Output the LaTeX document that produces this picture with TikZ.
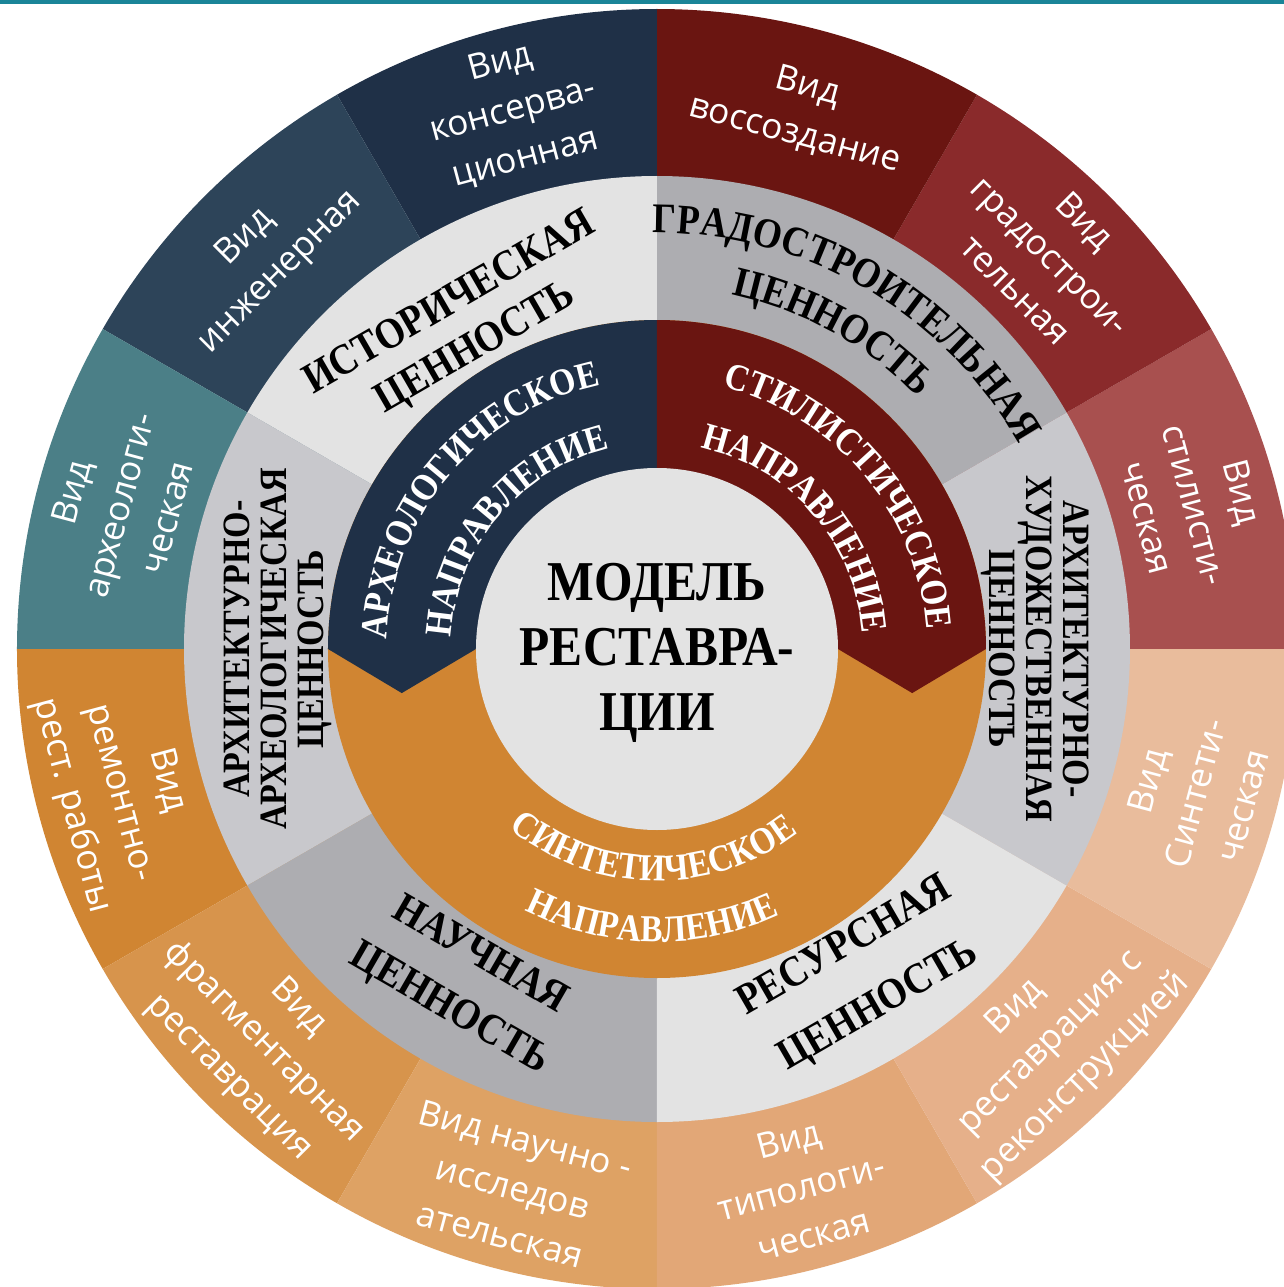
\documentclass[tikz,border=0pt]{standalone}
\usepackage{fontspec}
\setmainfont{Liberation Serif}
\newfontfamily\vidfont{Open Sans}
\newfontfamily\modfont[FakeStretch=0.88]{Liberation Serif}
\usetikzlibrary{decorations.text}

\definecolor{topline}{HTML}{1A8598}
\definecolor{navy}{HTML}{1F3047}
\definecolor{navyB}{HTML}{2D4459}
\definecolor{tealA}{HTML}{4B7F87}
\definecolor{wine}{HTML}{6A1511}
\definecolor{wineB}{HTML}{8A2A2B}
\definecolor{wineC}{HTML}{A8504F}
\definecolor{ochre}{HTML}{D08532}
\definecolor{ochreB}{HTML}{D7944C}
\definecolor{ochreC}{HTML}{DEA264}
\definecolor{peachA}{HTML}{E2A777}
\definecolor{peachB}{HTML}{E6B08A}
\definecolor{peachC}{HTML}{E9BC9C}
\definecolor{grayL}{HTML}{E3E3E3}
\definecolor{grayM}{HTML}{C8C8CC}
\definecolor{grayD}{HTML}{ADADB1}

\newcommand\dirfnt{\modfont\bfseries\fontsize{10.8}{12}\selectfont\color{white}}
\newcommand\valfnt{\modfont\bfseries\fontsize{12}{14}\selectfont}

\begin{document}
\begin{tikzpicture}[x=0.01cm, y=0.01cm,
    vid/.style={text=white, align=center, font=\vidfont\fontsize{10}{14}\selectfont},
    val/.style={align=center, font=\modfont\bfseries\fontsize{12.3}{#1}\selectfont},
    valsm/.style={align=center, font=\modfont\bfseries\fontsize{11}{10.5}\selectfont},
    arctext/.style={decorate, decoration={text along path, text align=center, text={#1}}}]
  \path[use as bounding box, fill=white] (-657,-638) rectangle (627,649);
  \fill[topline] (-657,645) rectangle (627,649);

  \foreach \a/\c in {0/wineC, 30/wineB, 60/wine, 90/navy, 120/navyB, 150/tealA,
                     180/ochre, 210/ochreB, 240/ochreC, 270/peachA, 300/peachB, 330/peachC}
    \fill[\c] (0,0) -- (\a:640) arc[start angle=\a, delta angle=30, radius=640] -- cycle;
  \foreach \a/\c in {30/grayD, 90/grayL, 150/grayM, 210/grayD, 270/grayL, 330/grayM}
    \fill[\c] (0,0) -- (\a:473) arc[start angle=\a, delta angle=60, radius=473] -- cycle;
  \fill[ochre] (0,0) circle (329);
  \fill[navy] (0,0) -- (90:329) arc[start angle=90, end angle=180, radius=329] -- (189.8:259) -- (180:181) -- cycle;
  \fill[wine] (0,0) -- (90:329) arc[start angle=90, end angle=0, radius=329] -- (-9.8:259) -- (0:181) -- cycle;
  \fill[grayL] (0,0) circle (181);

  \node[align=center, font=\modfont\bfseries\fontsize{16}{18.5}\selectfont] (model) at (0,-4) {МОДЕЛЬ\\РЕСТАВРА-\\ЦИИ};

  \path[arctext={|\dirfnt|АРХЕОЛОГИЧЕСКОЕ}] (200:270) arc[start angle=200, end angle=80, radius=270];
  \path[arctext={|\dirfnt|НАПРАВЛЕНИЕ}] (200:206) arc[start angle=200, end angle=80, radius=206];
  \path[arctext={|\dirfnt|СТИЛИСТИЧЕСКОЕ}] (100:270) arc[start angle=100, end angle=-20, radius=270];
  \path[arctext={|\dirfnt|НАПРАВЛЕНИЕ}] (101:206) arc[start angle=101, end angle=-19, radius=206];
  \path[arctext={|\dirfnt|СИНТЕТИЧЕСКОЕ}] (209:232) arc[start angle=209, end angle=329, radius=232];
  \path[arctext={|\dirfnt|НАПРАВЛЕНИЕ}] (209:293) arc[start angle=209, end angle=329, radius=293];

  \path[arctext={|\valfnt|ГРАДОСТРОИТЕЛЬНАЯ}] (120:416) arc[start angle=120, end angle=0, radius=416];
  \path[arctext={|\valfnt|ЦЕННОСТЬ}] (121:362) arc[start angle=121, end angle=1, radius=362];
  \node[val=14.8, rotate=30] (ist) at (121:376) {ИСТОРИЧЕСКАЯ\\ЦЕННОСТЬ};
  \node[valsm, rotate=90] (arh) at (180:379) {АРХИТЕКТУРНО-\\АРХЕОЛОГИЧЕСКАЯ\\ЦЕННОСТЬ};
  \node[val=17.5, rotate=-30] (nauch) at (240:386) {НАУЧНАЯ\\ЦЕННОСТЬ};
  \node[val=19.5, rotate=30] (res) at (302:387) {РЕСУРСНАЯ\\ЦЕННОСТЬ};
  \node[valsm, rotate=-90] (hud) at (0:378) {АРХИТЕКТУРНО-\\ХУДОЖЕСТВЕННАЯ\\ЦЕННОСТЬ};

  \foreach \a/\r/\t in {105/15/{Вид\\консерва-\\ционная}, 135/45/{Вид\\инженерная},
      165/75/{Вид\\археологи-\\ческая}, 75/-15/{Вид\\воссоздание},
      45/-45/{Вид\\градострои-\\тельная}, 15/-75/{Вид\\стилисти-\\ческая},
      195/-75/{Вид\\ремонтно-\\рест. работы}, 225/-45/{Вид\\фрагментарная\\реставрация},
      255/-15/{Вид научно -\\исследов\\ательская}, 285/15/{Вид\\типологи-\\ческая},
      315/45/{Вид\\реставрация с\\реконструкцией}, 345/75/{Вид\\Синтети-\\ческая}}
    \node[vid, rotate=\r] (vid\a) at (\a:557) {\t};
\end{tikzpicture}
\end{document}
